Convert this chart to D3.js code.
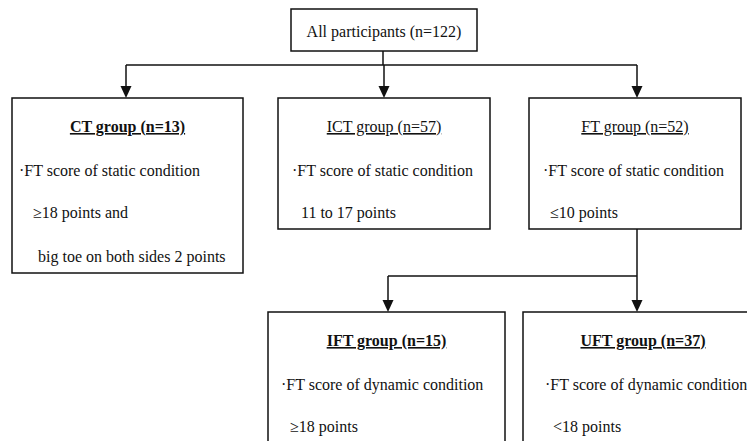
<!DOCTYPE html>
<html>
<head>
<meta charset="utf-8">
<script src="https://cdn.jsdelivr.net/npm/d3@7"></script>
<style>
  html, body { margin: 0; padding: 0; background: #fff; }
  svg text { font-family: "Liberation Serif", "Times New Roman", serif; fill: #111; }
</style>
</head>
<body>
<svg id="chart" width="747" height="441"></svg>
<script>
// Flowchart content
const rootLabel = "All participants (n=122)";

const groupTitles = ["CT group (n=13)", "ICT group (n=57)", "FT group (n=52)"];
const groupLines = [
  ["·FT score of static condition", "≥18 points and", "big toe on both sides 2 points"],
  ["·FT score of static condition", "11 to 17 points"],
  ["·FT score of static condition", "≤10 points"]
];

const subTitles = ["IFT group (n=15)", "UFT group (n=37)"];
const subLines = [
  ["·FT score of dynamic condition", "≥18 points"],
  ["·FT score of dynamic condition", "<18 points"]
];

// Layout (boxes and text offsets)
const W = 747, H = 441;
const svg = d3.select("#chart");

const rootBox = { x: 291, y: 9, w: 186, h: 42 };
const groupBoxes = [
  { x: 12, y: 98, w: 231, h: 175, bold: true, indents: [7, 21, 26], arrowX: 126 },
  { x: 278, y: 98, w: 212, h: 131, bold: false, indents: [14, 23], arrowX: 384 },
  { x: 529, y: 98, w: 212, h: 131, bold: false, indents: [14, 21], arrowX: 637 }
];
const subBoxes = [
  { x: 268, y: 312, w: 237, h: 140, bold: true, indents: [13, 22], arrowX: 388 },
  { x: 523, y: 312, w: 240, h: 140, bold: true, indents: [22, 30], arrowX: 637 }
];
const titleDy = 34, lineDy = [78, 120, 164];
const busY1 = 65, busY2 = 276;

const stroke = "#111";

function arrow(x, y1, y2) {
  svg.append("line")
    .attr("x1", x).attr("x2", x).attr("y1", y1).attr("y2", y2 - 11)
    .attr("stroke", stroke).attr("stroke-width", 1.5);
  svg.append("path")
    .attr("d", d3.line()([[x - 5.5, y2 - 12], [x + 5.5, y2 - 12], [x, y2]]) + "Z")
    .attr("fill", stroke);
}

function box(b) {
  svg.append("rect")
    .attr("x", b.x).attr("y", b.y).attr("width", b.w).attr("height", b.h)
    .attr("fill", "#fff").attr("stroke", stroke).attr("stroke-width", 1.5);
}

function titleText(b, label) {
  return svg.append("text")
    .attr("x", b.x + b.w / 2).attr("y", b.y + titleDy)
    .attr("text-anchor", "middle")
    .attr("font-size", 16)
    .attr("font-weight", b.bold ? "bold" : "normal")
    .attr("text-decoration", "underline")
    .text(label);
}

function bodyText(b, lines) {
  svg.selectAll(null)
    .data(lines)
    .enter()
    .append("text")
    .attr("x", (d, i) => b.x + b.indents[i])
    .attr("y", (d, i) => b.y + lineDy[i])
    .attr("font-size", 16)
    .text(d => d);
}

svg.append("rect").attr("width", W).attr("height", H).attr("fill", "#fff");

// root
box(rootBox);
svg.append("text")
  .attr("x", rootBox.x + rootBox.w / 2).attr("y", rootBox.y + 28)
  .attr("text-anchor", "middle").attr("font-size", 16)
  .text(rootLabel);

// first split
const rootCx = rootBox.x + rootBox.w / 2 - 1;
svg.append("line")
  .attr("x1", rootCx).attr("x2", rootCx).attr("y1", rootBox.y + rootBox.h).attr("y2", busY1)
  .attr("stroke", stroke).attr("stroke-width", 1.5);
svg.append("line")
  .attr("x1", d3.min(groupBoxes, d => d.arrowX)).attr("x2", d3.max(groupBoxes, d => d.arrowX))
  .attr("y1", busY1).attr("y2", busY1)
  .attr("stroke", stroke).attr("stroke-width", 1.5);
groupBoxes.forEach(b => arrow(b.arrowX, busY1, b.y));

groupBoxes.forEach((b, i) => {
  box(b);
  titleText(b, groupTitles[i]);
  bodyText(b, groupLines[i]);
});

// second split from FT group
const ft = groupBoxes[2];
svg.append("line")
  .attr("x1", ft.arrowX).attr("x2", ft.arrowX).attr("y1", ft.y + ft.h).attr("y2", busY2)
  .attr("stroke", stroke).attr("stroke-width", 1.5);
svg.append("line")
  .attr("x1", subBoxes[0].arrowX).attr("x2", subBoxes[1].arrowX)
  .attr("y1", busY2).attr("y2", busY2)
  .attr("stroke", stroke).attr("stroke-width", 1.5);
subBoxes.forEach(b => arrow(b.arrowX, busY2, b.y));

subBoxes.forEach((b, i) => {
  box(b);
  titleText(b, subTitles[i]);
  bodyText(b, subLines[i]);
});
</script>
</body>
</html>
